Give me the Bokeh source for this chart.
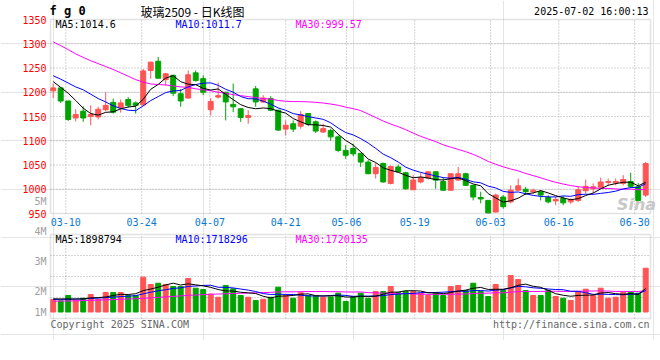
import numpy as np
import pandas as pd
from bokeh.plotting import figure
from bokeh.models import Label, Range1d, ColumnDataSource, BoxAnnotation
from bokeh.core.properties import value
from bokeh.embed import file_html
from bokeh.resources import INLINE

# ---------------- data ----------------
dates = ["03-06", "03-07", "03-10", "03-11", "03-12", "03-13", "03-14", "03-17", "03-18", "03-19",
         "03-20", "03-21", "03-24", "03-25", "03-26", "03-27", "03-28", "03-31",
         "04-01", "04-02", "04-03", "04-07", "04-08", "04-09", "04-10", "04-11", "04-14", "04-15",
         "04-16", "04-17", "04-18", "04-21", "04-22", "04-23", "04-24", "04-25", "04-28", "04-29", "04-30",
         "05-06", "05-07", "05-08", "05-09", "05-12", "05-13", "05-14", "05-15", "05-16", "05-19",
         "05-20", "05-21", "05-22", "05-23", "05-26", "05-27", "05-28", "05-29", "05-30",
         "06-03", "06-04", "06-05", "06-06", "06-09", "06-10", "06-11", "06-12", "06-13", "06-16",
         "06-17", "06-18", "06-19", "06-20", "06-23", "06-24", "06-25", "06-26", "06-27", "06-30",
         "07-01", "07-02"]
tick_dates = ["03-10", "03-24", "04-07", "04-21", "05-06", "05-19", "06-03", "06-16", "06-30"]

open_ = [1203, 1209, 1182, 1147, 1161, 1150, 1149, 1164, 1179, 1168, 1185, 1178, 1174, 1245, 1264, 1226,
         1235, 1197, 1188, 1240, 1228, 1164, 1190, 1200, 1175, 1166, 1148, 1207, 1180, 1187, 1163, 1124,
         1135, 1130, 1156, 1139, 1118, 1121, 1108, 1080, 1084, 1074, 1056, 1032, 1053, 1012, 1046, 1034,
         999, 1015, 1023, 1036, 1016, 998, 1019, 1032, 1008, 983, 977, 953, 984, 974, 998, 1000, 995, 995,
         983, 976, 981, 974, 977, 997, 1001, 1004, 1014, 1013, 1012, 1016, 1005, 988]
high = [1218, 1210, 1182, 1165, 1171, 1173, 1170, 1200, 1187, 1185, 1190, 1181, 1248, 1263, 1273, 1240,
        1236, 1207, 1245, 1245, 1235, 1188, 1220, 1201, 1218, 1167, 1163, 1213, 1194, 1192, 1164, 1142,
        1142, 1161, 1157, 1142, 1135, 1125, 1111, 1091, 1094, 1075, 1060, 1054, 1055, 1049, 1051, 1036,
        1029, 1034, 1037, 1037, 1025, 1033, 1046, 1034, 1009, 995, 978, 991, 988, 1008, 1022, 1005, 1001,
        998, 988, 984, 986, 981, 1005, 1020, 1012, 1024, 1022, 1022, 1029, 1034, 1013, 1056]
low = [1188, 1178, 1141, 1140, 1139, 1132, 1144, 1161, 1156, 1158, 1168, 1156, 1172, 1228, 1228, 1214,
       1192, 1170, 1187, 1222, 1194, 1152, 1187, 1142, 1159, 1139, 1135, 1170, 1178, 1161, 1120, 1111,
       1118, 1125, 1130, 1116, 1116, 1100, 1077, 1063, 1068, 1046, 1031, 1022, 1014, 1010, 1034, 999,
       998, 1012, 1020, 1001, 997, 997, 1017, 1007, 977, 971, 950, 952, 960, 971, 997, 988, 991, 977,
       971, 967, 967, 970, 974, 991, 991, 1001, 1008, 1008, 1008, 1003, 974, 984]
close = [1209, 1182, 1144, 1154, 1147, 1154, 1165, 1173, 1159, 1178, 1173, 1173, 1244, 1262, 1229, 1238,
         1198, 1182, 1236, 1224, 1200, 1181, 1193, 1180, 1170, 1148, 1152, 1180, 1188, 1163, 1122, 1132,
         1124, 1154, 1134, 1120, 1125, 1108, 1080, 1070, 1073, 1056, 1032, 1045, 1015, 1047, 1036, 1001,
         1019, 1024, 1036, 1019, 998, 1032, 1032, 1008, 984, 980, 951, 988, 964, 998, 1007, 995, 998, 988,
         974, 979, 972, 979, 999, 1006, 1005, 1015, 1016, 1016, 1020, 1006, 977, 1053]
volume = [1010000, 900000, 1330000, 950000, 1110000, 1410000, 1010000, 1570000, 1570000, 1570000,
          1330000, 1330000, 2810000, 2220000, 2320000, 2220000, 2060000, 2060000, 2700000, 1920000,
          1810000, 1440000, 1190000, 2140000, 1870000, 1330000, 1190000, 930000, 1030000, 1190000,
          2000000, 1330000, 1110000, 1550000, 1330000, 1270000, 1190000, 1220000, 1520000, 850000,
          1250000, 1520000, 1110000, 1650000, 1650000, 2060000, 1570000, 1650000, 1650000, 1520000,
          1330000, 1570000, 1330000, 2060000, 2140000, 1730000, 2320000, 1650000, 1250000, 2220000,
          1730000, 2940000, 2620000, 1730000, 1330000, 1330000, 1730000, 1250000, 1110000, 930000,
          1650000, 1840000, 1330000, 1920000, 1110000, 1190000, 1570000, 1650000, 1520000, 3530000]

ma5_head = [1222, 1210, 1198, 1183]
ma10_head = [1234, 1227, 1219, 1211, 1205, 1196, 1187, 1180, 1172]
ma30_head = [1304, 1296, 1288, 1279, 1272, 1265, 1259, 1253, 1247, 1240, 1233, 1226, 1221, 1217, 1216,
             1215, 1213, 1211, 1210, 1207, 1205, 1203, 1200, 1198, 1195, 1193, 1191, 1189, 1187]
vma5_head = [1060000, 1050000, 1050000, 1050000]
vma10_head = [1020000, 1020000, 1030000, 1040000, 1060000, 1090000, 1120000, 1160000, 1200000]
vma30_head = [870000, 880000, 890000, 900000, 920000, 940000, 960000, 980000, 1000000, 1020000,
              1050000, 1070000, 1100000, 1140000, 1180000, 1220000, 1260000, 1300000, 1340000, 1370000,
              1400000, 1430000, 1450000, 1470000, 1490000, 1510000, 1530000, 1550000, 1570000]

price_labels = ["MA5:1014.6", "MA10:1011.7", "MA30:999.57"]
volume_labels = ["MA5:1898794", "MA10:1718296", "MA30:1720135"]
price_ticks = [950, 1000, 1050, 1100, 1150, 1200, 1250, 1300, 1350]
vol_tick_text = ["1M", "2M", "3M", "4M", "5M"]
title_code = "f g 0"
title_name = "玻璃2509 - 日K线图"
stamp = "2025-07-02 16:00:13"
copyright_text = "Copyright 2025 SINA.COM"
site_text = "http://finance.sina.com.cn"
watermark = "Sina"

# ---------------- derived ----------------
def moving(vals, n, head):
    s = pd.Series(vals, dtype=float).rolling(n).mean().to_numpy()
    s[:n - 1] = head
    return s

n = len(close)
o = np.array(open_, float)
c = np.array(close, float)
RED, GREEN = "#ff5454", "#00a400"
cols = [RED if c[i] >= o[i] else GREEN for i in range(n)]

# ---------------- geometry (page pixels) ----------------
W, H = 660, 340
CX0, CDX = 52.7, 7.5            # first candle centre, px per candle
GX0, GDX = 50.13, 7.585         # date grid: page x of index 0, px per index
FX0, FX1 = 50, 650              # panel left / right
PY0, PY1 = 19, 213              # price panel top / bottom
VY0, VY1 = 234, 318             # volume panel top / bottom
VZERO, VPXM = 311.5, 12.4       # volume zero line, px per million

def wx(px):
    return (px - CX0) / CDX

def py(pyx):
    return 1350 - (pyx - PY0) * 400.0 / (PY1 - PY0)

def vy(pyx):
    return (VZERO - pyx) / VPXM * 1e6

xs = np.arange(n)
src = ColumnDataSource(dict(x=xs, o=o, c=c, h=high, l=low,
                            top=np.maximum(o, c), bot=np.minimum(o, c), col=cols,
                            v=volume,
                            m5=moving(close, 5, ma5_head), m10=moving(close, 10, ma10_head),
                            m30=moving(close, 30, ma30_head),
                            vm5=moving(volume, 5, vma5_head), vm10=moving(volume, 10, vma10_head),
                            vm30=moving(volume, 30, vma30_head)))

tick_pos = [wx(GX0 + GDX * dates.index(t)) for t in tick_dates]
MONO = "DejaVu Sans Mono"
GRID = "#aaaaaa"
FRAME = "#a0a0a0"

p = figure(width=W, height=H, x_range=Range1d(wx(0), wx(W)), y_range=Range1d(py(H), py(0)),
           output_backend="svg", toolbar_location=None, x_axis_location=None,
           y_axis_location=None, min_border=0, title=None)
p.extra_y_ranges = {"vol": Range1d(vy(H), vy(0))}
p.outline_line_color = None
p.background_fill_color = "white"
p.border_fill_color = "white"

xl, xr = wx(FX0), wx(FX1)
vlo, vhi = vy(VY1), vy(VY0)

# grid lines (dotted)
gy = price_ticks[1:-1]
p.segment(x0=[xl] * len(gy), x1=[xr] * len(gy), y0=gy, y1=gy,
          line_color=GRID, line_dash="1 2", line_width=1)
p.segment(x0=tick_pos, x1=tick_pos, y0=[price_ticks[0]] * len(tick_pos),
          y1=[price_ticks[-1]] * len(tick_pos), line_color=GRID, line_dash="1 2", line_width=1)
vgy = [vlo + (vhi - vlo) * k / 4 for k in (1, 2, 3)]
p.segment(x0=[xl] * 3, x1=[xr] * 3, y0=vgy, y1=vgy, line_color=GRID, line_dash="1 2",
          line_width=1, y_range_name="vol")
p.segment(x0=tick_pos, x1=tick_pos, y0=[vlo] * len(tick_pos), y1=[vhi] * len(tick_pos),
          line_color=GRID, line_dash="1 2", line_width=1, y_range_name="vol")

# candles
p.segment(x0="x", y0="l", x1="x", y1="h", color="col", line_width=1, source=src)
p.vbar(x="x", top="top", bottom="bot", width=0.66, fill_color="col", line_color="col",
       line_width=1, source=src)
p.line("x", "m30", color="#ff00ff", line_width=1, source=src)
p.line("x", "m10", color="#0000ff", line_width=1, source=src)
p.line("x", "m5", color="#000000", line_width=1, source=src)

# volume
p.vbar(x="x", top="v", bottom=0, width=0.66, fill_color="col", line_color="col",
       line_width=1, source=src, y_range_name="vol")
p.line("x", "vm30", color="#ff00ff", line_width=1, source=src, y_range_name="vol")
p.line("x", "vm10", color="#0000ff", line_width=1, source=src, y_range_name="vol")
p.line("x", "vm5", color="#000000", line_width=1, source=src, y_range_name="vol")

# panel frames
p.add_layout(BoxAnnotation(left=xl, right=xr, bottom=price_ticks[0], top=price_ticks[-1],
                           fill_color=None, line_color=FRAME, line_width=1.5))
p.add_layout(BoxAnnotation(left=xl, right=xr, bottom=vlo, top=vhi, fill_color=None,
                           line_color=FRAME, line_width=1.5, y_range_name="vol"))

# axis tick labels
p.text(x=[wx(46)] * len(price_ticks), y=price_ticks, text=[str(t) for t in price_ticks],
       text_align="right", text_baseline="middle", text_color="#ff0000",
       text_font=value(MONO), text_font_size=value("10px"))
p.text(x=tick_pos, y=[py(221.5)] * len(tick_pos), text=tick_dates,
       text_align="center", text_baseline="middle", text_color="#0a78d2",
       text_font=value(MONO), text_font_size=value("10px"))
vt_y = [vy(yy) for yy in (311.7, 291.0, 260.7, 230.8, 201.0)]
p.text(x=[wx(46)] * len(vt_y), y=vt_y, text=vol_tick_text, text_align="right",
       text_baseline="middle", text_color="#a0a0a0", text_font=value(MONO),
       text_font_size=value("10px"), y_range_name="vol")

def lab(x, y, text, color, size="10px", font=MONO, align="left", style="normal"):
    p.add_layout(Label(x=wx(x), y=py(y), text=text, text_color=color, text_font=font,
                       text_font_size=size, text_align=align, text_baseline="middle",
                       text_font_style=style))

lab(49, 10.5, title_code, "#000000", size="12px", style="bold")
lab(140, 10.5, title_name, "#000000", size="12px", font="Noto Sans CJK SC")
lab(648, 11, stamp, "#000000", align="right")
for xx, t, col in zip((55, 175, 295), price_labels, ("#000000", "#0000ff", "#ff00ff")):
    lab(xx, 24, t, col)
for xx, t, col in zip((55, 175, 295), volume_labels, ("#000000", "#0000ff", "#ff00ff")):
    lab(xx, 239, t, col)
lab(636, 204, watermark, "#c8c8c8", size="16px", font="DejaVu Sans", align="center",
    style="bold italic")
lab(50, 324, copyright_text, "#666666")
lab(649, 324, site_text, "#666666", align="right")

open("out.html", "w").write(file_html(p, INLINE))
